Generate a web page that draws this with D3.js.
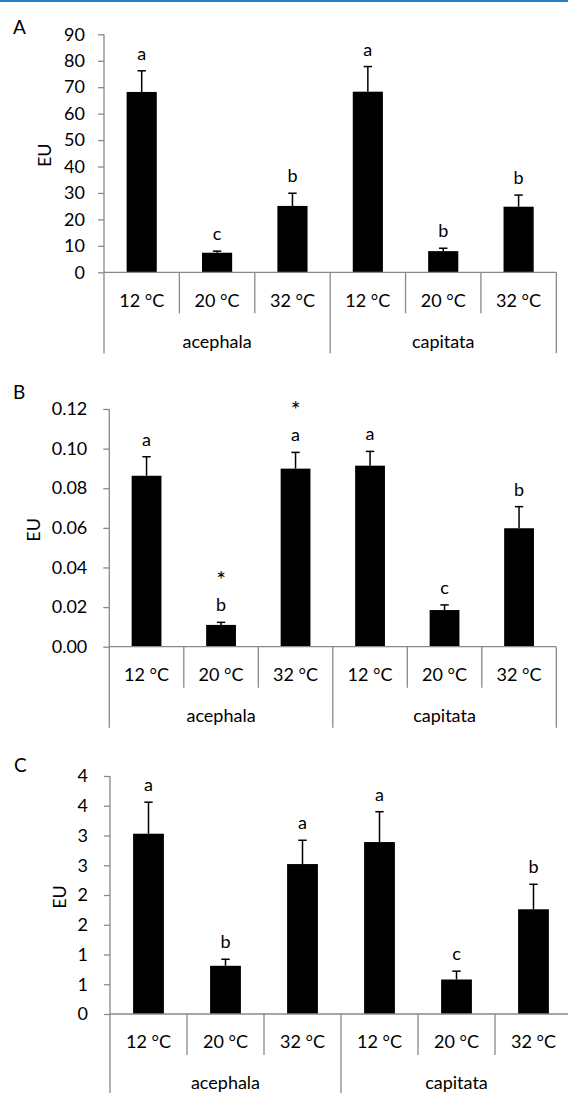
<!DOCTYPE html>
<html>
<head>
<meta charset="utf-8">
<script src="https://cdn.jsdelivr.net/npm/d3@7"></script>
<style>
  html, body { margin: 0; padding: 0; background: #fff; }
  svg { display: block; }
  text { font-family: Lato, "Open Sans", sans-serif; fill: #000; }
</style>
</head>
<body>
<svg id="chart" width="568" height="1093"></svg>
<script>
// ---------- data ----------
const groups = ["acephala", "capitata"];
const temps = ["12 °C", "20 °C", "32 °C"];

const aMeans   = [68.2, 7.4, 25.1, 68.3, 8.0, 24.8];
const aErrors  = [8.0, 0.6, 4.8, 9.5, 1.1, 4.4];
const aLetters = ["a", "c", "b", "a", "b", "b"];
const aTicks   = [0, 10, 20, 30, 40, 50, 60, 70, 80, 90];
const aTickLabels = ["0", "10", "20", "30", "40", "50", "60", "70", "80", "90"];

const bMeans   = [0.0863, 0.0110, 0.0899, 0.0914, 0.0185, 0.0598];
const bErrors  = [0.0096, 0.0013, 0.0082, 0.0072, 0.0026, 0.0109];
const bLetters = ["a", "b", "a", "a", "c", "b"];
const bStars   = ["", "*", "*", "", "", ""];
const bTicks   = [0, 0.02, 0.04, 0.06, 0.08, 0.10, 0.12];
const bTickLabels = ["0.00", "0.02", "0.04", "0.06", "0.08", "0.10", "0.12"];

const cMeans   = [3.03, 0.81, 2.52, 2.89, 0.58, 1.76];
const cErrors  = [0.53, 0.11, 0.40, 0.51, 0.14, 0.42];
const cLetters = ["a", "b", "a", "a", "c", "b"];
const cTicks   = [0, 0.5, 1, 1.5, 2, 2.5, 3, 3.5, 4];
const cTickLabels = ["0", "1", "1", "2", "2", "3", "3", "4", "4"];

const yTitle = "EU";

// ---------- layout ----------
const svg = d3.select("#chart");
const AXIS = "#898989";
const FS = 18;

svg.append("rect").attr("x", 0).attr("y", 0).attr("width", 568).attr("height", 2)
   .attr("fill", "#2a7fc4");

const categories = [];
groups.forEach((g, gi) => temps.forEach((t, ti) => categories.push({ id: gi + "-" + ti, group: g, temp: t })));

const panels = [
  { title: "A", means: aMeans, errors: aErrors, letters: aLetters, stars: null,
    ticks: aTicks, tickLabels: aTickLabels, x0: 104, x1: 556.3, yTop: 34.3, yZero: 272.3,
    labelGap: 19, euX: 45, titleX: 13, titleY: 27 },
  { title: "B", means: bMeans, errors: bErrors, letters: bLetters, stars: bStars,
    ticks: bTicks, tickLabels: bTickLabels, x0: 109.3, x1: 556.3, yTop: 409, yZero: 646.7,
    labelGap: 22, euX: 34, titleX: 13, titleY: 392 },
  { title: "C", means: cMeans, errors: cErrors, letters: cLetters, stars: null,
    ticks: cTicks, tickLabels: cTickLabels, x0: 110, x1: 572, yTop: 776, yZero: 1014,
    labelGap: 22, euX: 60, titleX: 14, titleY: 765 }
];

panels.forEach(p => {
  const g = svg.append("g");
  const x = d3.scaleBand().domain(categories.map(c => c.id)).range([p.x0, p.x1]).padding(0);
  const y = d3.scaleLinear().domain([p.ticks[0], p.ticks[p.ticks.length - 1]]).range([p.yZero, p.yTop]);
  const bw = x.bandwidth() * 0.4;

  // panel title
  g.append("text").attr("x", p.titleX).attr("y", p.titleY).attr("dy", "0.36em")
    .attr("font-size", FS + 1).text(p.title);

  // y axis title
  g.append("text")
    .attr("transform", `translate(${p.euX},${(p.yTop + p.yZero) / 2 + 2}) rotate(-90)`)
    .attr("text-anchor", "middle").attr("dy", "0.36em").attr("font-size", FS).text(yTitle);

  // y axis
  const yAxis = d3.axisLeft(y).tickValues(p.ticks).tickSize(6).tickPadding(p.labelGap - 6)
    .tickFormat((d, i) => p.tickLabels[i]);
  const ya = g.append("g").attr("transform", `translate(${p.x0},0)`).call(yAxis);
  ya.select(".domain").remove();
  ya.selectAll(".tick line").attr("stroke", AXIS).attr("stroke-width", 1.3);
  ya.selectAll(".tick text").attr("font-size", FS).attr("font-family", "Lato, 'Open Sans', sans-serif").attr("fill", "#000");

  // vertical y-axis line (extends below into category area)
  g.append("line").attr("x1", p.x0).attr("x2", p.x0).attr("y1", p.yTop).attr("y2", p.yZero + 81)
    .attr("stroke", AXIS).attr("stroke-width", 1.3);

  // bars
  g.selectAll("rect.bar").data(categories).join("rect").attr("class", "bar")
    .attr("x", c => x(c.id) + (x.bandwidth() - bw) / 2)
    .attr("width", bw)
    .attr("y", (c, i) => y(p.means[i]))
    .attr("height", (c, i) => y(0) - y(p.means[i]))
    .attr("fill", "#000");

  // error bars (upper)
  categories.forEach((c, i) => {
    const cx = x(c.id) + x.bandwidth() / 2;
    const yt = y(p.means[i] + p.errors[i]);
    g.append("line").attr("x1", cx).attr("x2", cx).attr("y1", y(p.means[i])).attr("y2", yt)
      .attr("stroke", "#000").attr("stroke-width", 1.5);
    g.append("line").attr("x1", cx - 4.2).attr("x2", cx + 4.2).attr("y1", yt).attr("y2", yt)
      .attr("stroke", "#000").attr("stroke-width", 1.5);
    g.append("text").attr("x", cx).attr("y", yt - 11).attr("text-anchor", "middle")
      .attr("font-size", FS).text(p.letters[i]);
    if (p.stars && p.stars[i]) {
      g.append("text").attr("x", cx).attr("y", yt - 11 - 23).attr("text-anchor", "middle")
        .attr("font-size", 23).text(p.stars[i]);
    }
  });

  // zero line
  g.append("line").attr("x1", p.x0).attr("x2", p.x1).attr("y1", y(0)).attr("y2", y(0))
    .attr("stroke", AXIS).attr("stroke-width", 1.3);

  // category dividers
  categories.forEach((c, i) => {
    if (i === 0) return;
    const xx = x(c.id);
    const long = (i % temps.length === 0);
    g.append("line").attr("x1", xx).attr("x2", xx).attr("y1", y(0))
      .attr("y2", y(0) + (long ? 81 : 41)).attr("stroke", AXIS).attr("stroke-width", 1.3);
  });
  g.append("line").attr("x1", p.x1).attr("x2", p.x1).attr("y1", y(0)).attr("y2", y(0) + 81)
    .attr("stroke", AXIS).attr("stroke-width", 1.3);

  // category labels
  g.selectAll("text.cat").data(categories).join("text").attr("class", "cat")
    .attr("x", c => x(c.id) + x.bandwidth() / 2).attr("y", y(0) + 28).attr("dy", "0.36em")
    .attr("text-anchor", "middle").attr("font-size", FS).text(c => c.temp);

  // group labels
  groups.forEach((gr, gi) => {
    const first = x(gi + "-0");
    const last = x(gi + "-" + (temps.length - 1)) + x.bandwidth();
    g.append("text").attr("x", (first + last) / 2).attr("y", y(0) + 70).attr("dy", "0.3em")
      .attr("text-anchor", "middle").attr("font-size", FS).text(gr);
  });
});
</script>
</body>
</html>
